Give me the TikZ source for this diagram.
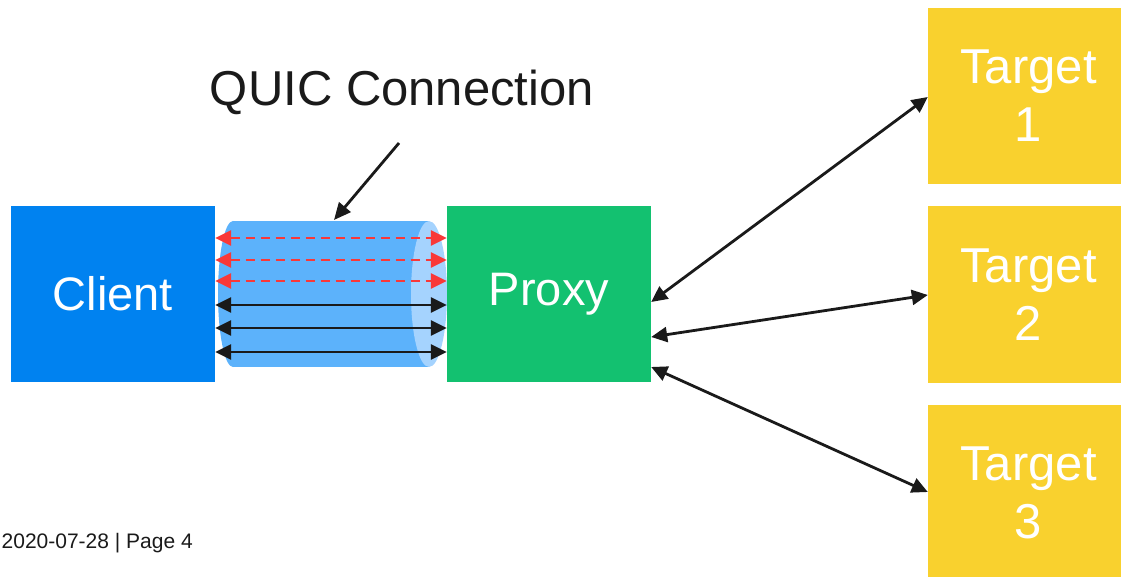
\documentclass[tikz,border=0pt]{standalone}
\usepackage{fontspec}
\setmainfont{Liberation Sans}
\usetikzlibrary{arrows.meta}
\definecolor{eblue}{HTML}{0082F0}
\definecolor{egreen}{HTML}{13C170}
\definecolor{eyellow}{HTML}{F9D12E}
\definecolor{cylbody}{HTML}{5CB2FB}
\definecolor{cylend}{HTML}{A5D3FE}
\definecolor{ered}{HTML}{F93838}
\definecolor{ink}{HTML}{1A1A1A}
\newcommand{\tsh}{\hspace*{8pt}}
\begin{document}
\begin{tikzpicture}[x=1pt,y=-1pt,
  box/.style={minimum width=204pt, minimum height=176pt, inner sep=0pt, text=white,
    font=\fontsize{47}{58}\selectfont, align=center},
  tbox/.style={box, minimum width=193pt, fill=eyellow, font=\fontsize{49}{58}\selectfont},
  biarrow/.style={draw=ink, line width=2.8pt,
    {Triangle[length=16pt,width=15pt]}-{Triangle[length=16pt,width=15pt]}},
  redarrow/.style={draw=ered, line width=2.6pt, dash pattern=on 9pt off 6pt,
    {Triangle[length=16pt,width=15pt]}-{Triangle[length=16pt,width=15pt]}},
  ptr/.style={draw=ink, line width=2.8pt, -{Triangle[length=17pt,width=15pt]}}]
\useasboundingbox (0,0) rectangle (1122,577);
% cylinder
\fill[cylbody] (233,294) ellipse [x radius=15, y radius=73];
\fill[cylbody] (233,221) rectangle (429,367);
\fill[cylend] (429,294) ellipse [x radius=18, y radius=73];
% boxes
\node[box, fill=eblue] (client) at (113,294) {Client};
\node[box, fill=egreen] (proxy) at (549,294) {Proxy};
\node[tbox] (t1) at (1024.5,96) {\tsh Target\\\tsh 1};
\node[tbox] (t2) at (1024.5,294.5) {\tsh Target\\\tsh 2};
\node[tbox] (t3) at (1024.5,493) {\tsh Target\\\tsh 3};
% title
\node[anchor=base, font=\fontsize{49}{58}\selectfont, text=ink] (title) at (402,106) {QUIC Connection};
\coordinate (ptrstart) at (399,143);
\coordinate (cyltop) at (334,220);
\draw[ptr] (ptrstart) -- (cyltop);
% streams
\draw[redarrow] (client.east |- 0,238) -- (proxy.west |- 0,238);
\draw[redarrow] (client.east |- 0,260) -- (proxy.west |- 0,260);
\draw[redarrow] (client.east |- 0,281) -- (proxy.west |- 0,281);
\draw[biarrow] (client.east |- 0,305) -- (proxy.west |- 0,305);
\draw[biarrow] (client.east |- 0,328) -- (proxy.west |- 0,328);
\draw[biarrow] (client.east |- 0,352) -- (proxy.west |- 0,352);
% proxy to targets
\draw[biarrow] (proxy.east |- 0,302) -- (t1.west |- 0,97);
\draw[biarrow] (proxy.east |- 0,337) -- (t2.west |- 0,295);
\draw[biarrow] (proxy.east |- 0,367) -- (t3.west |- 0,492);
% footer
\node[anchor=base east, inner sep=0pt, font=\fontsize{21}{24}\selectfont, text=ink] (footer) at (193,548) {2020-07-28 | Page 4};
\end{tikzpicture}
\end{document}
